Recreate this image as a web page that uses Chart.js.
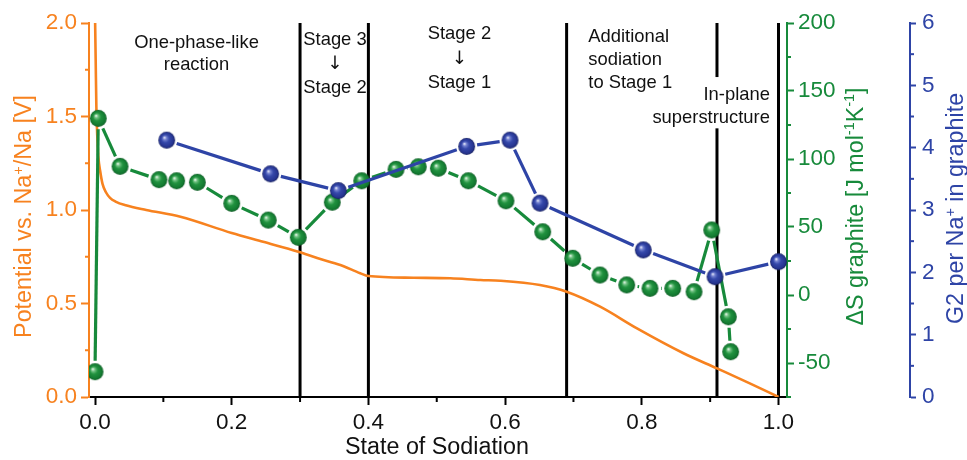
<!DOCTYPE html>
<html><head><meta charset="utf-8">
<script src="https://cdn.jsdelivr.net/npm/chart.js@4.4.1/dist/chart.umd.min.js"></script>
<style>html,body{margin:0;padding:0;background:#fff}#wrap{width:967px;height:460px}</style>
</head><body><div id="wrap"><canvas id="c" width="967" height="460"></canvas></div>
<script>
const FONT = '"Liberation Sans", Arial, Helvetica, sans-serif';

// ---- data ----
const potentialX = [0.000,0.001,0.002,0.0035,0.005,0.0075,0.011,0.016,0.022,0.030,0.045,0.075,0.125,0.200,0.246,0.2975,0.325,0.359,0.388,0.400,0.466,0.520,0.564,0.593,0.651,0.690,0.739,0.793,0.861,0.910,0.958,1.000];
const potentialV = [2.05,1.80,1.55,1.38,1.28,1.21,1.14,1.095,1.065,1.045,1.025,1.000,0.964,0.877,0.830,0.777,0.743,0.706,0.662,0.647,0.638,0.635,0.626,0.622,0.599,0.563,0.483,0.367,0.234,0.153,0.073,0.000];

const entropyX = [0.000,0.0048,0.0366,0.0936,0.1195,0.1497,0.200,0.2535,0.2974,0.3472,0.3902,0.4404,0.473,0.5023,0.5462,0.6013,0.655,0.6989,0.7388,0.7779,0.812,0.8452,0.8764,0.9023,0.9266,0.930];
const entropyS = [-56.4,129.9,94.6,84.8,84.0,82.9,67.4,55.1,42.4,68.2,84.0,92.4,94.3,93.2,84.0,69.3,46.5,27.0,14.7,7.4,4.9,4.9,2.4,47.8,-16.0,-41.7];

const g2X = [0.1049,0.257,0.356,0.5438,0.6072,0.6511,0.8022,0.9071,1.000];
const g2Val = [4.12,3.58,3.31,4.02,4.12,3.11,2.36,1.93,2.17];

const stageBoundaries = [0.3,0.4,0.69,0.91,1.0];

const xTicks = [0,0.2,0.4,0.6,0.8,1.0];
const xMinorTicks = [0.1,0.3,0.5,0.7,0.9];
const potTicks = [0,0.5,1.0,1.5,2.0];
const potMinorTicks = [0.25,0.75,1.25,1.75];
const entropyTicks = [-50,0,50,100,150,200];
const entropyMinorTicks = [-75,-25,25,75,125,175];
const g2Ticks = [0,1,2,3,4,5,6];
const g2MinorTicks = [0.5,1.5,2.5,3.5,4.5,5.5];

const xTitle = 'State of Sodiation';
const potTitle = [{t:'Potential vs. Na'},{t:'+',sup:true},{t:'/Na [V]'}];
const entropyTitle = [{t:'\u0394S graphite [J mol'},{t:'-1',sup:true},{t:'K'},{t:'-1',sup:true},{t:']'}];
const g2Title = [{t:'G2 per Na'},{t:'+',sup:true},{t:' in graphite'}];

const stageLabels = [
  {lines:['One-phase-like','reaction'], x:0.1485, y:1.865, align:'center', lh:22},
  {lines:['Stage 3','\u2193','Stage 2'], x:0.3511, y:1.882, align:'center', lh:24.2},
  {lines:['Stage 2','\u2193','Stage 1'], x:0.5332, y:1.913, align:'center', lh:24.4},
  {lines:['Additional','sodiation','to Stage 1'], x:0.7217, y:1.8995, align:'left', lh:23.3},
  {lines:['In-plane','superstructure'], x:0.9875, y:1.588, align:'right', lh:23.3, box:true}
];

// ---- styles ----
const ORANGE = '#f7821f', GREEN = '#178a3b', BLUE = '#2e44a6';
const BALL_R = 8.4;

function makeBall(r, stops){
  const s = Math.ceil(2*r+2);
  const cv = document.createElement('canvas'); cv.width = s; cv.height = s;
  const g = cv.getContext('2d');
  const c = s/2;
  const grd = g.createRadialGradient(c - r*0.28, c - r*0.32, r*0.04, c, c, r);
  stops.forEach(([o,col]) => grd.addColorStop(o,col));
  g.fillStyle = grd; g.beginPath(); g.arc(c,c,r,0,Math.PI*2); g.fill();
  return cv;
}
const greenBall = makeBall(BALL_R,[[0,'#e6f5e9'],[0.18,'#72c283'],[0.45,'#21923f'],[0.85,'#137a31'],[1,'#0c5a22']]);
const blueBall = makeBall(BALL_R,[[0,'#e4e7f8'],[0.18,'#7482d0'],[0.45,'#3548aa'],[0.85,'#26348f'],[1,'#17205e']]);

function pts(xs, ys){ return xs.map((x,i)=>({x:x, y:ys[i]})); }

// line segments stop short of the symbols (gap around each ball)
function gapDash(gap){
  return {
    borderDash: c => { const L = Math.hypot(c.p1.x-c.p0.x, c.p1.y-c.p0.y); return [Math.max(L-2*gap, 0.001), 2*gap]; },
    borderDashOffset: c => { const L = Math.hypot(c.p1.x-c.p0.x, c.p1.y-c.p0.y); return Math.max(L-2*gap, 0.001) + gap; }
  };
}

function drawRich(ctx, parts, size, color, x, y, rot){
  ctx.save(); ctx.translate(x,y); ctx.rotate(rot);
  ctx.fillStyle = color; ctx.textBaseline = 'alphabetic'; ctx.textAlign = 'left';
  let w = 0;
  for (const p of parts){ ctx.font = (p.sup? size*0.62 : size) + 'px ' + FONT; w += ctx.measureText(p.t).width; }
  let cx = -w/2;
  for (const p of parts){
    const s = p.sup? size*0.62 : size;
    ctx.font = s + 'px ' + FONT;
    ctx.fillText(p.t, cx, p.sup? -size*0.36 : 0);
    cx += ctx.measureText(p.t).width;
  }
  ctx.restore();
}

const decor = {
  id:'decor',
  beforeDatasetsDraw(chart){
    const ctx = chart.ctx, a = chart.chartArea, xs = chart.scales.x, ys = chart.scales.yPot;
    ctx.save();
    ctx.strokeStyle = '#000'; ctx.lineWidth = 3;
    stageBoundaries.forEach(v => {
      const px = xs.getPixelForValue(v);
      ctx.beginPath(); ctx.moveTo(px, a.top); ctx.lineTo(px, a.bottom); ctx.stroke();
    });
    const labelFont = '18.4px ' + FONT;
    ctx.font = labelFont;
    ctx.textBaseline = 'alphabetic';
    stageLabels.filter(l => l.box).forEach(l => {
      const px = xs.getPixelForValue(l.x), py = ys.getPixelForValue(l.y);
      let mw = 0; l.lines.forEach(t => mw = Math.max(mw, ctx.measureText(t).width));
      ctx.fillStyle = '#fff';
      ctx.fillRect(px - mw - 3, py - 23, mw + 5, l.lh*(l.lines.length-1) + 28);
    });
    stageLabels.forEach(l => {
      const px = xs.getPixelForValue(l.x), py = ys.getPixelForValue(l.y);
      ctx.textAlign = l.align;
      ctx.fillStyle = '#111';
      l.lines.forEach((t,i) => {
        ctx.font = t === '\u2193' ? '18.4px "DejaVu Sans", ' + FONT : labelFont;
        ctx.fillText(t, px, py + i*l.lh);
      });
    });
    ctx.restore();
  },
  afterDraw(chart){
    const ctx = chart.ctx, a = chart.chartArea, sc = chart.scales;
    ctx.save();
    ctx.lineWidth = 2;
    ctx.strokeStyle = '#000';
    xMinorTicks.forEach(v => { const p = sc.x.getPixelForValue(v); ctx.beginPath(); ctx.moveTo(p, a.bottom); ctx.lineTo(p, a.bottom+5); ctx.stroke(); });
    ctx.strokeStyle = ORANGE;
    potMinorTicks.forEach(v => { const p = sc.yPot.getPixelForValue(v); ctx.beginPath(); ctx.moveTo(a.left, p); ctx.lineTo(a.left-4, p); ctx.stroke(); });
    ctx.strokeStyle = GREEN;
    entropyMinorTicks.forEach(v => { const p = sc.yS.getPixelForValue(v); ctx.beginPath(); ctx.moveTo(sc.yS.left, p); ctx.lineTo(sc.yS.left+4, p); ctx.stroke(); });
    ctx.strokeStyle = BLUE;
    g2MinorTicks.forEach(v => { const p = sc.yG2.getPixelForValue(v); ctx.beginPath(); ctx.moveTo(sc.yG2.left, p); ctx.lineTo(sc.yG2.left+4, p); ctx.stroke(); });
    ctx.fillStyle = '#111'; ctx.font = '23.3px ' + FONT; ctx.textAlign = 'center'; ctx.textBaseline = 'alphabetic';
    ctx.fillText(xTitle, 437, 454);
    const mid = (a.top + a.bottom)/2;
    drawRich(ctx, potTitle, 23.3, ORANGE, 31, mid + 6.5, -Math.PI/2);
    drawRich(ctx, entropyTitle, 23.3, GREEN, 862.5, mid - 3.5, -Math.PI/2);
    drawRich(ctx, g2Title, 23.3, BLUE, 963, mid - 1.5, -Math.PI/2);
    ctx.restore();
  }
};

function setTicks(arr){ return s => { s.ticks = arr.map(v => ({value:v})); }; }
const tickFont = {family: FONT, size: 22.5};

new Chart(document.getElementById('c'), {
  type:'line',
  data:{ datasets:[
    {label:'G2 per Na+', data:pts(g2X,g2Val), yAxisID:'yG2', borderColor:BLUE, borderWidth:3.2,
     pointStyle:blueBall, pointRadius:BALL_R, order:1, segment:gapDash(10.5)},
    {label:'dS graphite', data:pts(entropyX,entropyS), yAxisID:'yS', borderColor:GREEN, borderWidth:3.2,
     pointStyle:greenBall, pointRadius:BALL_R, order:2, segment:gapDash(11)},
    {label:'Potential', data:pts(potentialX,potentialV), yAxisID:'yPot', borderColor:ORANGE, borderWidth:2.6,
     pointRadius:0, cubicInterpolationMode:'monotone', order:3}
  ]},
  options:{
    responsive:false, animation:false, devicePixelRatio:1,
    layout:{padding:{top:23, left:0, right:0, bottom:0}},
    plugins:{legend:{display:false}, tooltip:{enabled:false}},
    scales:{
      x:{type:'linear', position:'bottom', min:-0.00878, max:1.01244,
        afterBuildTicks:setTicks(xTicks), afterFit:s=>{s.height=63;},
        grid:{drawOnChartArea:false, drawTicks:true, tickLength:8, tickWidth:2, tickColor:'#000'},
        border:{display:true, color:'#000', width:2},
        ticks:{color:'#111', font:tickFont, padding:4, maxRotation:0, autoSkip:false, callback:v=>Number(v).toFixed(1)}},
      yPot:{type:'linear', position:'left', min:0, max:2,
        afterBuildTicks:setTicks(potTicks), afterFit:s=>{s.width=89;},
        grid:{drawOnChartArea:false, drawTicks:true, tickLength:8, tickWidth:2, tickColor:ORANGE},
        border:{display:true, color:ORANGE, width:2},
        ticks:{color:ORANGE, font:tickFont, padding:4, callback:v=>Number(v).toFixed(1)}},
      yS:{type:'linear', position:'right', min:-75, max:200,
        afterBuildTicks:setTicks(entropyTicks), afterFit:s=>{s.width=123;},
        grid:{drawOnChartArea:false, drawTicks:true, tickLength:7, tickWidth:2, tickColor:GREEN},
        border:{display:true, color:GREEN, width:2},
        ticks:{color:GREEN, font:tickFont, padding:4, callback:v=>String(v)}},
      yG2:{type:'linear', position:'right', min:0, max:6,
        afterBuildTicks:setTicks(g2Ticks), afterFit:s=>{s.width=57;},
        grid:{drawOnChartArea:false, drawTicks:true, tickLength:6, tickWidth:2, tickColor:BLUE},
        border:{display:true, color:BLUE, width:2},
        ticks:{color:BLUE, font:tickFont, padding:6, callback:v=>String(v)}}
    }
  },
  plugins:[decor]
});
</script></body></html>
